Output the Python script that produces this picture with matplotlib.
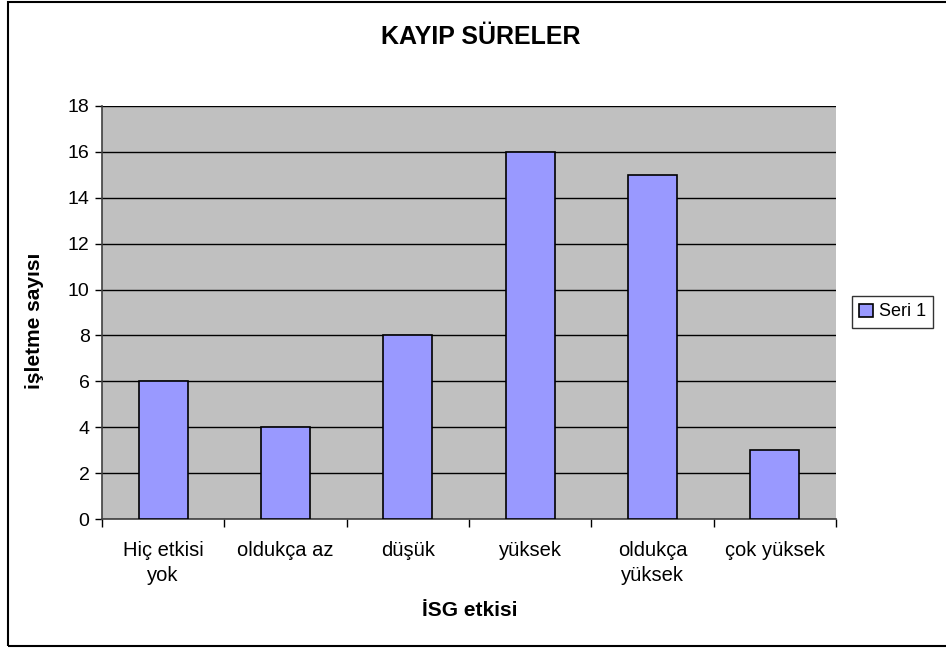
import matplotlib
matplotlib.use("Agg")
import matplotlib.pyplot as plt
from matplotlib.patches import Rectangle

plt.rcParams['font.family'] = ['Liberation Sans', 'DejaVu Sans']

# data
kategoriler = ['Hiç etkisi\nyok', 'oldukça az', 'düşük', 'yüksek', 'oldukça\nyüksek', 'çok yüksek']
degerler = [6, 4, 8, 16, 15, 3]
seri_adi = 'Seri 1'

fig = plt.figure(figsize=(9.46, 6.48), dpi=100)
W, H = 946, 648

# outer chart border (right edge falls outside the picture)
fig.patches.append(Rectangle((8 / W, 2 / H), 1.0, 1 - 4 / H, transform=fig.transFigure,
                             fill=False, edgecolor='black', linewidth=1.5))

ax = fig.add_axes([102 / W, 1 - 519 / H, (836 - 102) / W, (519 - 106) / H])
ax.set_facecolor('#C0C0C0')

x = list(range(len(kategoriler)))
ax.bar(x, degerler, width=0.4, color='#9999FF', edgecolor='black', linewidth=1.2,
       label=seri_adi, zorder=3)

ax.set_xlim(-0.5, len(kategoriler) - 0.5)
ax.set_ylim(0, 18)
ax.set_yticks(range(0, 19, 2))
ax.yaxis.grid(True, color='black', linewidth=1, zorder=1)
ax.set_axisbelow(True)

ax.set_xticks([i - 0.5 for i in range(len(kategoriler) + 1)])
ax.set_xticklabels([])
ax.set_xticks(x, minor=True)
ax.set_xticklabels(kategoriler, minor=True, fontsize=14.5, linespacing=1.4)
ax.tick_params(axis='x', which='minor', length=0, pad=16)
ax.tick_params(axis='x', which='major', length=6, direction='out', width=1)
ax.tick_params(axis='y', length=5, direction='out', width=1, labelsize=14, pad=4)

for s in ['top', 'right']:
    ax.spines[s].set_visible(False)
ax.spines['left'].set_color('#404040')
ax.spines['bottom'].set_color('#404040')
ax.spines['left'].set_linewidth(1.2)
ax.spines['bottom'].set_linewidth(1.2)

fig.text(481 / W, 1 - 37 / H, 'KAYIP SÜRELER', ha='center', va='center',
         fontsize=18, fontweight='bold')
fig.text(470 / W, 1 - 611 / H, 'İSG etkisi', ha='center', va='center',
         fontsize=15, fontweight='bold')
fig.text(35 / W, 1 - 321 / H, 'işletme sayısı', ha='center', va='center',
         rotation=90, fontsize=15, fontweight='bold')

leg = fig.legend(loc='center left', bbox_to_anchor=(852 / W, 1 - 312 / H),
                 fontsize=13, frameon=True, fancybox=False, handlelength=0.75,
                 handleheight=0.75, handletextpad=0.35, borderpad=0.4,
                 borderaxespad=0)
leg.get_frame().set_edgecolor('black')
leg.get_frame().set_linewidth(1)

fig.savefig('out.png', dpi=100)
